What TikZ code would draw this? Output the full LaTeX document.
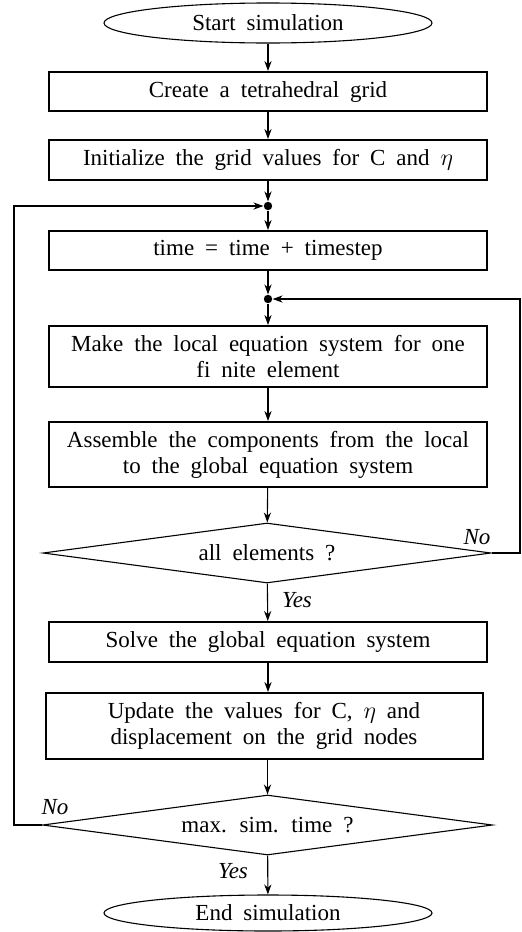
\documentclass[tikz,border=0pt]{standalone}
\usepackage{fontspec}
\setmainfont[WordSpace=1.9]{Liberation Serif}
\usetikzlibrary{shapes.geometric,arrows.meta}

\tikzset{
  flow/.style={line width=0.55pt,-{Stealth[length=5pt,width=3.6pt,inset=1.6pt]}},
  stepbox/.style={draw,line width=1pt,rectangle,minimum width=219pt,inner sep=0pt,align=center,font=\fontsize{11.5}{13}\selectfont},
  terminal/.style={draw,line width=0.55pt,ellipse,minimum width=164pt,minimum height=20pt,inner sep=0pt,font=\fontsize{11.5}{13}\selectfont},
  decision/.style={draw,line width=0.55pt,diamond,aspect=7.5,minimum width=224pt,minimum height=30pt,inner sep=0pt,font=\fontsize{11.5}{13}\selectfont},
  junction/.style={circle,fill=black,inner sep=0pt,minimum size=4.2pt},
  answer/.style={font=\fontsize{11.5}{13}\selectfont\itshape,inner sep=0pt}
}

\begin{document}
\begin{tikzpicture}[x=0.5pt,y=-0.5pt]
  \useasboundingbox (0,0) rectangle (522,932);

  % main sequence
  \node[terminal] (start) at (268,23) {Start simulation};
  \node[stepbox,minimum height=19.5pt] (grid) at (268,91.5) {Create a tetrahedral grid};
  \node[stepbox,minimum height=20pt] (init) at (268,160) {Initialize the grid values for C and $\eta$};
  \node[junction] (j1) at (268,206) {};
  \node[stepbox,minimum height=19.5pt] (time) at (268,250.5) {time = time + timestep};
  \node[junction] (j2) at (268,299) {};
  \node[stepbox,minimum height=30.5pt] (local) at (268,356.5) {Make the local equation system for one\\fi nite element};
  \node[stepbox,minimum height=32.5pt] (assem) at (268,454.5) {Assemble the components from the local\\to the global equation system};
  \node[decision] (allel) at (267,553) {all elements ?};
  \node[stepbox,minimum height=20pt] (solve) at (268,642) {Solve the global equation system};
  \node[stepbox,minimum width=218.5pt,minimum height=33pt] (upd) at (264,726) {Update the values for C, $\eta$ and\\displacement on the grid nodes};
  \node[decision,minimum width=225pt] (maxt) at (267.5,825) {max. sim. time ?};
  \node[terminal,minimum height=18pt] (stop) at (268,913) {End simulation};

  % forward connectors
  \draw[flow] (start) -- (grid);
  \draw[flow] (grid) -- (init);
  \draw[flow] (init) -- (j1);
  \draw[flow] (j1) -- (time);
  \draw[flow] (time) -- (j2);
  \draw[flow] (j2) -- (local);
  \draw[flow] (local) -- (assem);
  \draw[flow] (assem) -- (allel);
  \draw[flow] (allel) -- (solve);
  \draw[flow] (solve.south) -- (solve.south |- upd.north);
  \draw[flow] (maxt.north |- upd.south) -- (maxt.north);
  \draw[flow] (maxt) -- (stop);

  % loops
  \coordinate (rr) at (520,553);
  \coordinate (ll) at (14,825);
  \draw[flow] (allel.east) -- (rr) -- (rr |- j2) -- (j2);
  \draw[flow] (maxt.west) -- (ll) -- (ll |- j1) -- (j1);

  % branch labels
  \node[answer] (no1) at (477,537) {No};
  \node[answer] (yes1) at (297,600) {Yes};
  \node[answer] (no2) at (55,807) {No};
  \node[answer] (yes2) at (233,871) {Yes};
\end{tikzpicture}
\end{document}
